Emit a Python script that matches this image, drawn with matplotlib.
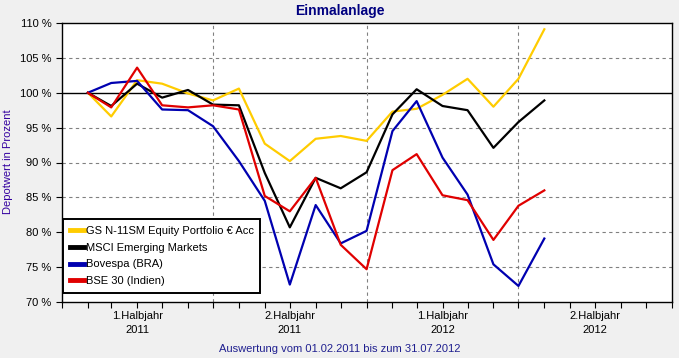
import pandas as pd
import numpy as np
import matplotlib
matplotlib.use("Agg")
import matplotlib.pyplot as plt
import matplotlib.dates as mdates
import matplotlib.transforms as mtransforms
from matplotlib.lines import Line2D

plt.rcParams['font.family'] = ['Liberation Sans', 'DejaVu Sans']

# Monatswerte (Depotwert in Prozent), Feb 2011 - Aug 2012
datum = pd.date_range("2011-02-01", periods=19, freq="MS")
gs_n11 = [100.0, 96.6, 101.8, 101.3, 99.9, 98.9, 100.6, 92.7, 90.2, 93.4,
          93.8, 93.1, 97.3, 97.7, 99.7, 102.0, 98.0, 102.0, 109.1]
msci_em = [100.0, 98.1, 101.3, 99.3, 100.4, 98.3, 98.2, 88.5, 80.7, 87.8,
           86.3, 88.6, 96.9, 100.5, 98.1, 97.5, 92.1, 95.8, 98.9]
bovespa = [100.0, 101.4, 101.7, 97.6, 97.5, 95.2, 90.2, 84.5, 72.5, 83.9,
           78.4, 80.2, 94.5, 98.8, 90.7, 85.4, 75.4, 72.3, 79.1]
bse30 = [100.0, 97.9, 103.6, 98.2, 97.9, 98.2, 97.6, 85.2, 83.0, 87.8,
         78.2, 74.7, 88.9, 91.2, 85.3, 84.6, 78.9, 83.8, 86.0]

namen = ["GS N-11SM Equity Portfolio € Acc", "MSCI Emerging Markets",
         "Bovespa (BRA)", "BSE 30 (Indien)"]
farben = ["#FFCC00", "#000000", "#0000B0", "#E00000"]

halbjahr_labels = ["1.Halbjahr\n2011", "2.Halbjahr\n2011",
                   "1.Halbjahr\n2012", "2.Halbjahr\n2012"]
halbjahr_mitte = pd.to_datetime(["2011-04-01", "2011-10-01",
                                 "2012-04-01", "2012-10-01"])
halbjahr_grenzen = pd.to_datetime(["2011-07-01", "2012-01-01", "2012-07-01"])

fig = plt.figure(figsize=(6.79, 3.58), dpi=100, facecolor="#F0F0F0")
ax = fig.add_axes([62/679, 1 - 302/358, 610/679, 279/358])
ax.set_facecolor("white")

x0 = mdates.date2num(pd.Timestamp("2011-01-01"))
x1 = mdates.date2num(pd.Timestamp("2013-01-01"))
ax.set_xlim(x0, x1)
ax.set_ylim(70, 110)

# Gitter
for y in range(75, 110, 5):
    if y == 100:
        ax.axhline(y, color="black", lw=1, zorder=1)
    else:
        ax.axhline(y, color="#808080", lw=0.8, ls=(0, (3, 3)), zorder=1)
for g in halbjahr_grenzen:
    ax.axvline(mdates.date2num(g), color="#808080", lw=0.8, ls=(0, (3, 3)), zorder=1)

xs = mdates.date2num(datum)
for werte, farbe in zip([gs_n11, msci_em, bovespa, bse30], farben):
    ax.plot(xs, werte, color=farbe, lw=1.6, zorder=3)

# Achsen
ax.set_yticks(range(70, 111, 5))
ax.set_yticklabels([f"{v} %" for v in range(70, 111, 5)], fontsize=8)
monate = mdates.date2num(pd.date_range("2011-01-01", "2013-01-01", freq="MS"))
ax.set_xticks(monate)
ax.set_xticklabels([])
ax.tick_params(axis="both", direction="out", length=4, width=0.8, color="black")
for s in ax.spines.values():
    s.set_linewidth(1)
    s.set_color("black")

trans = mtransforms.blended_transform_factory(ax.transData, ax.transAxes)
for m, lab in zip(halbjahr_mitte, halbjahr_labels):
    ax.text(mdates.date2num(m), -0.075, lab, transform=trans, ha="center",
            va="center", fontsize=8, linespacing=1.4)

fig.text(340/679, 1 - 11/358, "Einmalanlage", ha="center", va="center",
         fontsize=10, fontweight="bold", color="#000080")
fig.text(8/679, 1 - 162/358, "Depotwert in Prozent", ha="center", va="center",
         rotation=90, fontsize=8, color="#3300A0")
fig.text(340/679, 1 - 349/358, "Auswertung vom 01.02.2011 bis zum 31.07.2012",
         ha="center", va="center", fontsize=8, color="#202090")

handles = [Line2D([0], [0], color=f, lw=3.5) for f in farben]
leg = ax.legend(handles, namen, loc="lower left", bbox_to_anchor=(1/610, 9/279),
                borderaxespad=0, fontsize=8, handlelength=1.3, handletextpad=0.15,
                labelspacing=0.62, fancybox=False, framealpha=1, edgecolor="black",
                borderpad=0.6)
leg.get_frame().set_linewidth(1.4)
leg.set_zorder(5)

fig.savefig("out.png", dpi=100, facecolor=fig.get_facecolor())
